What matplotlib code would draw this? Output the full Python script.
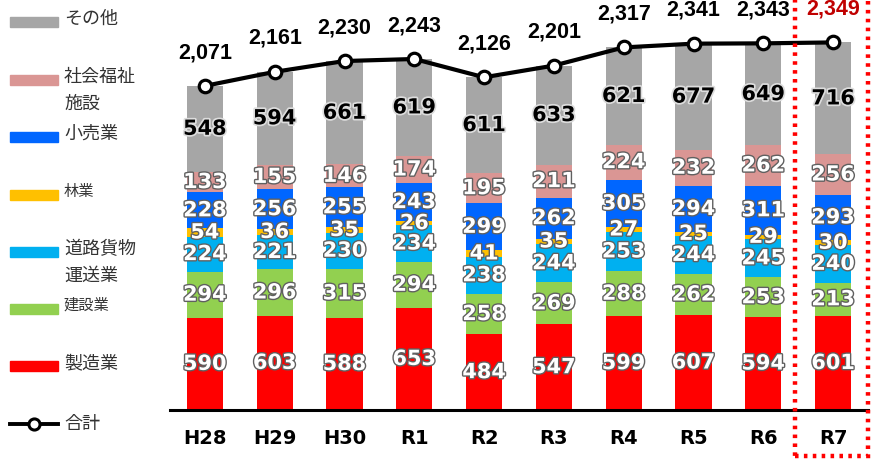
import matplotlib
matplotlib.use("Agg")
import matplotlib.pyplot as plt
import matplotlib.patheffects as pe
from matplotlib.patches import Rectangle
from matplotlib.lines import Line2D
import matplotlib.transforms as mtransforms

plt.rcParams['font.family'] = ['DejaVu Sans', 'Noto Sans CJK JP']

years = ["H28", "H29", "H30", "R1", "R2", "R3", "R4", "R5", "R6", "R7"]
seizo = [590, 603, 588, 653, 484, 547, 599, 607, 594, 601]          # 製造業
kensetsu = [294, 296, 315, 294, 258, 269, 288, 262, 253, 213]       # 建設業
doro = [224, 221, 230, 234, 238, 244, 253, 244, 245, 240]           # 道路貨物運送業
ringyo = [54, 36, 35, 26, 41, 35, 27, 25, 29, 30]                   # 林業
kouri = [228, 256, 255, 243, 299, 262, 305, 294, 311, 293]          # 小売業
fukushi = [133, 155, 146, 174, 195, 211, 224, 232, 262, 256]        # 社会福祉施設
sonota = [548, 594, 661, 619, 611, 633, 621, 677, 649, 716]         # その他
totals = [2071, 2161, 2230, 2243, 2126, 2201, 2317, 2341, 2343, 2349]  # 合計

series = [seizo, kensetsu, doro, ringyo, kouri, fukushi, sonota]
colors = ["#FF0000", "#92D050", "#00B0F0", "#FFC000", "#0066FF", "#DA9694", "#A6A6A6"]

W, H = 875, 461
fig = plt.figure(figsize=(W / 100, H / 100), dpi=100)
ax = fig.add_axes([170 / W, (H - 410) / H, (868 - 170) / W, 410 / H])

x = list(range(len(years)))
bottoms = [0] * len(years)
for si, (vals, col) in enumerate(zip(series, colors)):
    ax.bar(x, vals, width=0.52, bottom=bottoms, color=col, zorder=2)
    for i, v in enumerate(vals):
        yc = bottoms[i] + v / 2
        if si == len(series) - 1:
            t = ax.text(i, yc, f"{v}", ha='center', va='center', fontsize=15,
                        fontweight='bold', color='black', zorder=5)
            t.set_path_effects([pe.withStroke(linewidth=2.5, foreground='#DDDDDD')])
        else:
            t = ax.text(i, yc, f"{v}", ha='center', va='center', fontsize=15,
                        fontweight='bold', color='white', zorder=5)
            t.set_path_effects([pe.withStroke(linewidth=2.0, foreground='#606060')])
    bottoms = [b + v for b, v in zip(bottoms, vals)]

ax.plot(x, totals, color='black', lw=3, marker='o', markersize=9,
        markerfacecolor='white', markeredgecolor='black', markeredgewidth=2.3, zorder=6)
for i, v in enumerate(totals):
    col = '#C00000' if i == len(totals) - 1 else 'black'
    ax.annotate(f"{v:,}", (i, v), xytext=(0, 24), textcoords='offset points',
                ha='center', va='center', fontsize=15.5, fontweight='bold', color=col,
                family=['Liberation Sans', 'DejaVu Sans'],
                zorder=7, annotation_clip=False)

ax.set_xlim(-0.5, len(years) - 0.5)
ax.set_ylim(0, 2620)
ax.set_xticks(x)
ax.set_xticklabels(years, fontsize=14, fontweight='bold')
ax.tick_params(axis='x', length=0, pad=14)
ax.set_yticks([])
for s in ['left', 'right', 'top']:
    ax.spines[s].set_visible(False)
ax.spines['bottom'].set_linewidth(2.2)
ax.spines['bottom'].set_color('black')
ax.set_zorder(1)

# red dotted highlight around the last category
trans = mtransforms.blended_transform_factory(ax.transData, fig.transFigure)
rect = Rectangle((len(years) - 1 - 0.545, 5 / H), 1.05, (H + 20) / H, transform=trans,
                 fill=False, edgecolor='#FF0000', lw=3.2, linestyle=(0, (0.8, 1.2)),
                 clip_on=False, zorder=8)
fig.add_artist(rect)

# legend on the left
leg_items = [
    ("その他", "#A6A6A6", 22, 13),
    ("社会福祉\n施設", "#DA9694", 80, 13),
    ("小売業", "#0066FF", 137, 13),
    ("林業", "#FFC000", 195, 11),
    ("道路貨物\n運送業", "#00B0F0", 252, 13),
    ("建設業", "#92D050", 309, 11),
    ("製造業", "#FF0000", 366, 13),
]
for label, col, ypx, fs in leg_items:
    fig.add_artist(Rectangle((10 / W, (H - ypx - 5) / H), 48 / W, 10 / H,
                             transform=fig.transFigure, color=col))
    fig.text(64 / W, (H - ypx + 12) / H, label, ha='left', va='top',
             fontsize=fs, color='#333333', family=['Noto Sans CJK JP', 'DejaVu Sans'],
             linespacing=1.65)
ly = (H - 424) / H
fig.add_artist(Line2D([10 / W, 58 / W], [ly, ly], transform=fig.transFigure, color='black', lw=2.8))
fig.add_artist(Line2D([34 / W], [ly], transform=fig.transFigure, color='black', marker='o',
                      markersize=8, markerfacecolor='white', markeredgewidth=2.2))
fig.text(64 / W, ly, "合計", ha='left', va='center', fontsize=13, color='#333333',
         family=['Noto Sans CJK JP', 'DejaVu Sans'])

fig.savefig("out.png", dpi=100)
